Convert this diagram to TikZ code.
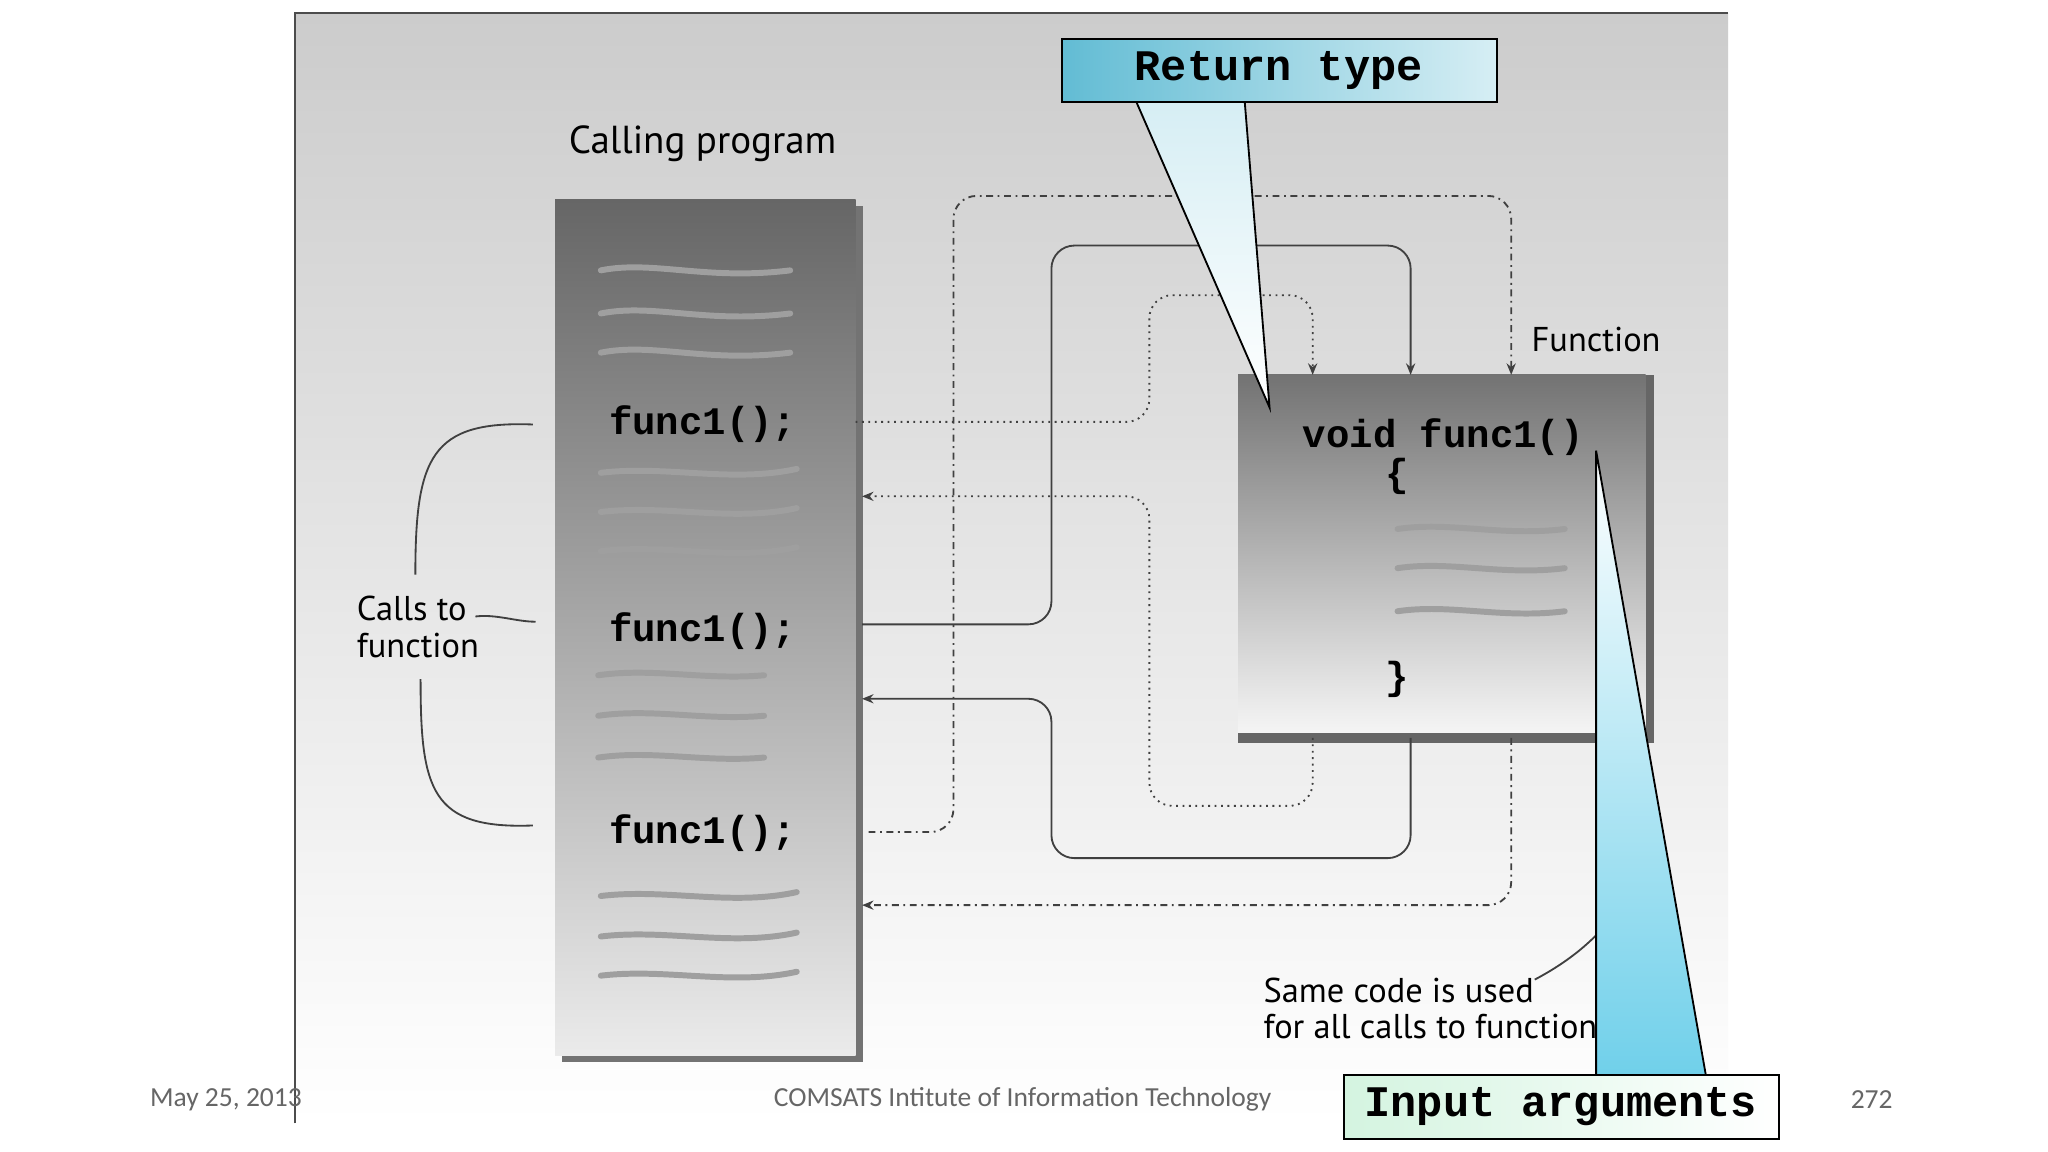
\documentclass[tikz,border=0pt]{standalone}
\usepackage{fontspec}
\setmainfont{PT Sans}
\newfontfamily\mono{Liberation Mono}
\newfontfamily\foot{Carlito}
\usetikzlibrary{arrows.meta}
\definecolor{callA}{HTML}{62BCD4}
\definecolor{callB}{HTML}{D6EEF4}
\definecolor{mint}{HTML}{D4F4E0}
\definecolor{cyanp}{HTML}{70D0EA}
\begin{document}
\begin{tikzpicture}[x=0.02cm,y=-0.02cm,
  squig/.style={line width=2.6pt,gray!75,line cap=round},
  conn/.style={line width=0.8pt,black!75,-{Stealth[length=5pt,width=4pt]},rounded corners=10pt},
  dot/.style={conn,dotted},
  dd/.style={conn,dash dot},
  code/.style={font=\mono\bfseries\fontsize{17}{17}\selectfont},
  lab/.style={font=\fontsize{15}{16}\selectfont,align=left}]
\useasboundingbox (0,0) rectangle (1568,882);
\fill[white] (0,0) rectangle (1568,882);
% frame
\shade[top color=black!20,bottom color=white] (226,10) rectangle (1323,860);
\draw[black!70,line width=0.8pt] (226,860) -- (226,10) -- (1323,10);
\node[lab,font=\fontsize{17}{17}\selectfont] (cp) at (538,110) {Calling program};
% calling box
\fill[black!55] (430,158) rectangle (661,813);
\shade[top color=black!60,bottom color=black!8] (425,153) rectangle (655,808);
\node[code] (f1) at (538,325) {func1();};
\node[code] (f2) at (538,483) {func1();};
\node[code] (f3) at (538,638) {func1();};
\foreach \y in {207,240,270} \draw[squig] (460,\y) .. controls (500,\y-8) and (540,\y+8) .. (605,\y);
\foreach \y in {362,392,422} \draw[squig] (460,\y) .. controls (510,\y-6) and (560,\y+8) .. (610,\y-3);
\foreach \y in {517,548,580} \draw[squig] (458,\y) .. controls (500,\y-6) and (540,\y+4) .. (585,\y);
\foreach \y in {686,717,747} \draw[squig] (460,\y) .. controls (510,\y-6) and (560,\y+8) .. (610,\y-3);
% function box
\fill[black!60] (948,287) rectangle (1266,569);
\shade[top color=black!55,bottom color=black!4] (948,287) rectangle (1260,561);
\node[lab,font=\fontsize{15}{16}\selectfont] (fl) at (1222,260) {Function};
\node[code] (vf) at (1105,335) {void func1()};
\node[code] at (1070,365) {\{};
\node[code] at (1070,520) {\}};
\foreach \y in {405,435,468} \draw[squig] (1070,\y) .. controls (1110,\y-6) and (1150,\y+6) .. (1198,\y);
% connectors
\draw[dot] (655,323) -- (880,323) -- (880,226) -- (1005,226) -- (1005,287);
\draw[dot] (1005,565) -- (1005,617) -- (880,617) -- (880,380) -- (660,380);
\draw[conn] (660,478) -- (805,478) -- (805,188) -- (1080,188) -- (1080,287);
\draw[conn] (1080,565) -- (1080,657) -- (805,657) -- (805,535) -- (660,535);
\draw[dd] (665,637) -- (730,637) -- (730,150) -- (1157,150) -- (1157,287);
\draw[dd] (1157,565) -- (1157,693) -- (660,693);
% braces
\draw[black!75,line width=0.8pt] (408,325) .. controls (330,322) and (318,350) .. (318,440);
\draw[black!75,line width=0.8pt] (408,632) .. controls (330,635) and (322,605) .. (322,520);
\draw[black!75,line width=0.8pt] (364,472) .. controls (380,470) and (395,476) .. (410,476);
\node[lab] (ctf) at (320,480) {Calls to\\function};
\node[lab] (same) at (1098,772) {Same code is used\\for all calls to function.};
\draw[black!75,line width=0.8pt] (1175,750) .. controls (1270,700) and (1270,620) .. (1240,578);
% callouts
\shade[top color=callB,bottom color=white] (870,78) -- (953,78) -- (972,312) -- cycle;
\draw[line width=0.8pt] (870,78) -- (972,312) -- (953,78);
\shade[left color=callA,right color=callB,draw=black,line width=0.8pt] (813,30) rectangle (1146,78);
\draw[line width=0.8pt] (813,30) rectangle (1146,78);
\node[code,font=\mono\bfseries\fontsize{19}{19}\selectfont] (rt) at (979,54) {Return type};
\shade[top color=white,bottom color=cyanp] (1222,345) -- (1222,823) -- (1306,823) -- cycle;
\draw[line width=0.8pt] (1222,823) -- (1222,345) -- (1306,823);
\shade[left color=mint,right color=white] (1029,823) rectangle (1362,872);
\draw[line width=0.8pt] (1029,823) rectangle (1362,872);
\node[code,font=\mono\bfseries\fontsize{19}{19}\selectfont] (ia) at (1195,847) {Input arguments};
% footer
\node[font=\foot\fontsize{12}{12}\selectfont,text=black!60] (d) at (173,842) {May 25, 2013};
\node[font=\foot\fontsize{12}{12}\selectfont,text=black!60] (c) at (783,842) {COMSATS Intitute of Information Technology};
\node[font=\foot\fontsize{12}{12}\selectfont,text=black!60] (p) at (1433,842) {272};
\end{tikzpicture}
\end{document}
